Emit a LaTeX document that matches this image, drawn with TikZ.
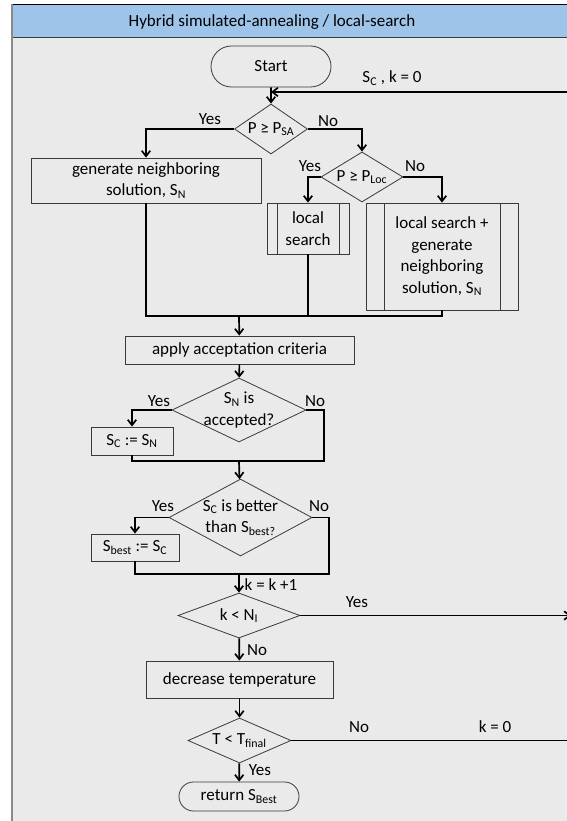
\documentclass[tikz,border=0pt]{standalone}
\usepackage{fontspec}
\setmainfont{Carlito}
\usetikzlibrary{arrows.meta,shapes.geometric,shapes.misc}
\definecolor{panelgray}{HTML}{EAEAEA}
\definecolor{titleblue}{HTML}{9FC4E9}
\definecolor{boxgray}{HTML}{3A3A3A}
\definecolor{framegray}{HTML}{8A8A8A}

\begin{document}
\begin{tikzpicture}[x=1pt, y=-1pt, font=\fontsize{17}{21.5}\selectfont,
  box/.style={shape=rectangle, draw=boxgray, line width=0.8pt, inner sep=0pt, align=center},
  term/.style={shape=rounded rectangle, draw=boxgray, line width=0.8pt, inner sep=0pt, align=center},
  decision/.style={shape=diamond, draw=boxgray, line width=0.8pt, inner sep=0pt},
  pproc/.style={box, path picture={
    \draw[boxgray, line width=0.8pt] ([xshift=#1]path picture bounding box.north west) -- ([xshift=#1]path picture bounding box.south west);
    \draw[boxgray, line width=0.8pt] ([xshift=-#1]path picture bounding box.north east) -- ([xshift=-#1]path picture bounding box.south east);}},
  flow/.style={line width=1.7pt, black},
  arr/.style={flow, -{Straight Barb[length=5.5pt, width=8.5pt]}},
  tag/.style={inner sep=0pt, anchor=center}]
\useasboundingbox (0,0) rectangle (566,821);
\fill[panelgray] (11,4.5) rectangle (580,830);
\fill[titleblue] (11,4.5) rectangle (580,38);
\draw[black, line width=1.2pt] (11,4.5) -- (580,4.5);
\draw[boxgray, line width=1pt] (11,38) -- (580,38);
\draw[framegray, line width=2pt] (12,4.5) -- (12,830);
\node[tag] (title) at (272,22) {Hybrid simulated-annealing / local-search};
\node[term, minimum width=120, minimum height=41] (start) at (271,66.5) {Start};
\node[decision, minimum width=73, minimum height=50, label={[tag]center:{P ≥ P\textsubscript{SA}}}] (d1) at (271,129) {};
\node[box, minimum width=230, minimum height=45] (gen) at (146,180.5) {generate neighboring\\solution, S\textsubscript{N}};
\node[decision, minimum width=82, minimum height=50, label={[tag]center:{P ≥ P\textsubscript{Loc}}}] (d2) at (362,177) {};
\node[pproc=10pt, minimum width=82, minimum height=51] (ls) at (308,228.5) {local\\search};
\node[pproc=18pt, minimum width=152, minimum height=107] (lsg) at (442,256.5) {local search +\\generate\\neighboring\\solution, S\textsubscript{N}};
\coordinate (m) at (239,316);
\node[box, minimum width=229, minimum height=28] (acc) at (239.5,350) {apply acceptation criteria};
\node[decision, minimum width=134, minimum height=64, label={[tag, align=center]center:{S\textsubscript{N} is\\accepted?}}] (d3) at (239,410) {};
\node[box, minimum width=82, minimum height=28] (sc) at (132,441) {S\textsubscript{C} := S\textsubscript{N}};
\coordinate (j1) at (239,461);
\coordinate (n1) at (324,461);
\node[decision, minimum width=143, minimum height=77, label={[tag, align=center]center:{S\textsubscript{C} is better\\than S\textsubscript{best?}}}] (d4) at (240.5,517.5) {};
\node[box, minimum width=88, minimum height=27] (sb) at (135,547.5) {S\textsubscript{best} := S\textsubscript{C}};
\coordinate (j2) at (239,574);
\coordinate (n2) at (329,574);
\node[decision, minimum width=122, minimum height=45, label={[tag]center:{k < N\textsubscript{I}}}] (d5) at (239,615.5) {};
\node[box, minimum width=187, minimum height=37] (dec) at (239.5,679.5) {decrease temperature};
\node[decision, minimum width=103, minimum height=45, label={[tag]center:{T < T\textsubscript{final}}}] (d6) at (239.5,740.5) {};
\node[term, minimum width=120, minimum height=29] (ret) at (239,796.5) {return S\textsubscript{Best}};
\coordinate (e1) at (575,92);
\coordinate (e2) at (571,615.5);
\coordinate (e3) at (575,740.5);
\node[tag] (lbl0) at (392,78) {S\textsubscript{C} , k = 0};
\node[tag] (y1) at (210,119) {Yes};
\node[tag] (n1l) at (328,121) {No};
\node[tag] (y2) at (310,166) {Yes};
\node[tag] (n2l) at (415,166) {No};
\node[tag] (y3) at (159,401) {Yes};
\node[tag] (n3l) at (315,401) {No};
\node[tag] (y4) at (163,506) {Yes};
\node[tag] (n4l) at (319,506) {No};
\node[tag] (kk) at (271,585) {k = k +1};
\node[tag] (y5) at (357,602) {Yes};
\node[tag] (n5l) at (257,650) {No};
\node[tag] (n6l) at (359,727) {No};
\node[tag] (k0) at (495,727) {k = 0};
\node[tag] (y6) at (260,770) {Yes};
\draw[arr] (start) -- (d1);
\draw[arr] (e1) -- (start.south |- e1);
\draw[arr] (d1.west) -| (gen.north);
\draw[arr] (d1.east) -| (d2.north);
\draw[arr] (d2.west) -| (ls.north);
\draw[arr] (d2.east) -| (lsg.north);
\draw[flow] (gen.south) -- (gen.south |- m) -- (lsg.south |- m) -- (lsg.south);
\draw[flow] (ls.south) -- (ls.south |- m);
\draw[arr] (m) -- (acc);
\draw[arr] (acc) -- (d3);
\draw[arr] (d3.west) -| (sc.north);
\draw[flow] (d3.east) -| (n1) -- (sc.south |- n1) -- (sc.south);
\draw[arr] (j1) -- (d4);
\draw[arr] (d4.west) -| (sb.north);
\draw[flow] (d4.east) -| (n2) -- (sb.south |- n2) -- (sb.south);
\draw[arr] (j2) -- (d5);
\draw[arr] (d5.east) -- (e2);
\draw[arr] (d5) -- (dec);
\draw[arr] (dec) -- (d6);
\draw[flow] (d6.east) -- (e3);
\draw[arr] (d6) -- (ret);
\end{tikzpicture}
\end{document}
